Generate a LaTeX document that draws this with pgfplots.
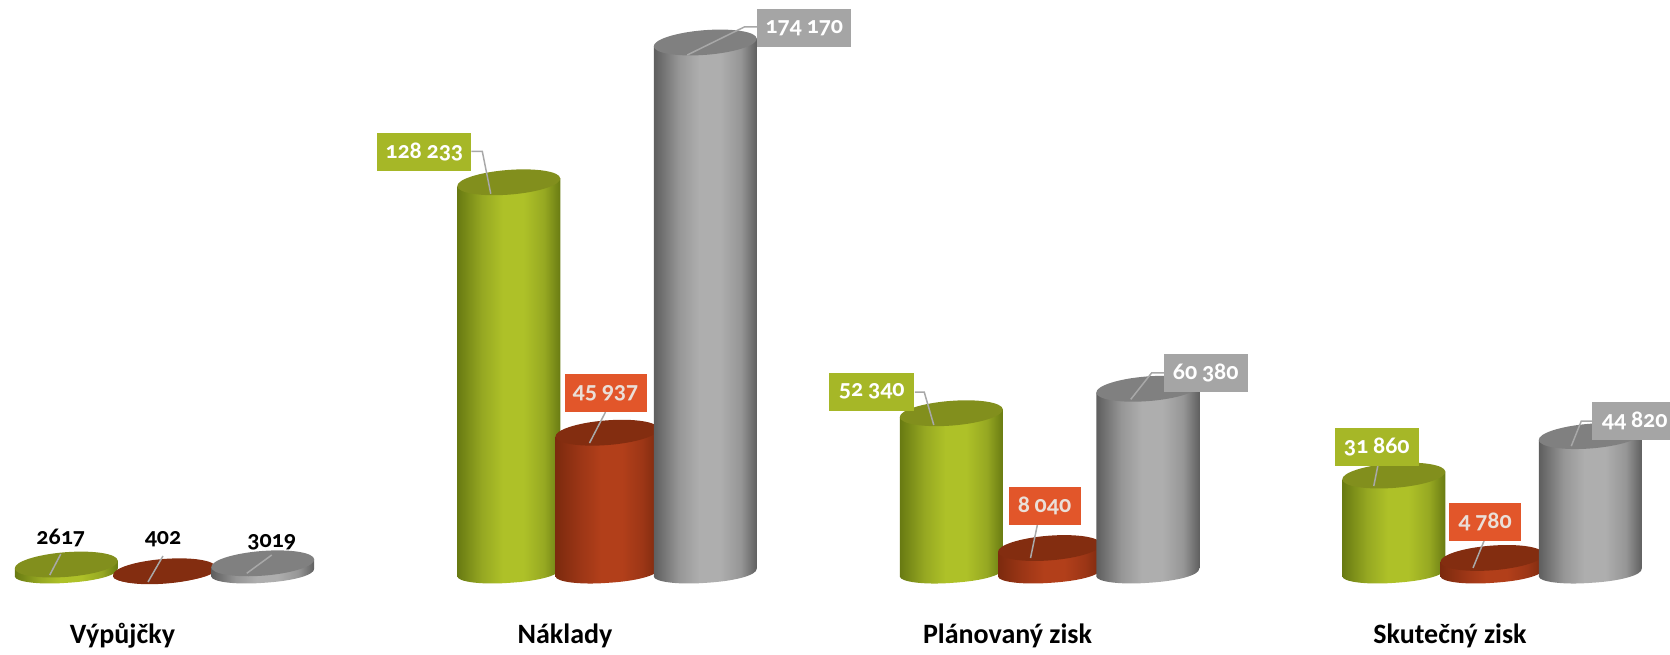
\documentclass[border=0pt]{standalone}
\usepackage{fontspec}
\usepackage{pgfplots}
\usepackage{pgfplotstable}
\pgfplotsset{compat=1.18}
\setmainfont{Carlito}[Numbers=OldStyle]
\definecolor{gE}{HTML}{687A12}\definecolor{gM}{HTML}{96A822}\definecolor{gB}{HTML}{AEC128}\definecolor{gT}{HTML}{828F1D}\definecolor{gL}{HTML}{A6B727}
\definecolor{rE}{HTML}{7C2A0E}\definecolor{rM}{HTML}{9C3616}\definecolor{rB}{HTML}{B23F1A}\definecolor{rT}{HTML}{832D10}\definecolor{rL}{HTML}{E2562A}
\definecolor{aE}{HTML}{5E5E5E}\definecolor{aM}{HTML}{969696}\definecolor{aB}{HTML}{AEAEAE}\definecolor{aT}{HTML}{808080}\definecolor{aL}{HTML}{A5A5A5}
\definecolor{lead}{HTML}{A8A8A8}\definecolor{rtxt}{HTML}{EADFD8}
\pgfdeclarehorizontalshading{cylg}{100bp}{color(0bp)=(gE);color(25bp)=(gE);color(37bp)=(gM);color(47bp)=(gB);color(57bp)=(gB);color(67bp)=(gM);color(75bp)=(gE);color(100bp)=(gE)}
\pgfdeclarehorizontalshading{cylr}{100bp}{color(0bp)=(rE);color(25bp)=(rE);color(37bp)=(rM);color(47bp)=(rB);color(57bp)=(rB);color(67bp)=(rM);color(75bp)=(rE);color(100bp)=(rE)}
\pgfdeclarehorizontalshading{cyla}{100bp}{color(0bp)=(aE);color(25bp)=(aE);color(37bp)=(aM);color(47bp)=(aB);color(57bp)=(aB);color(67bp)=(aM);color(75bp)=(aE);color(100bp)=(aE)}
\makeatletter
\newcommand\fixnum[1]{%
  \edef\fix@tmp{\noexpand\in@{Y}{#1}}\fix@tmp
  \ifin@\pgfmathfloattofixed{#1}\else\pgfmathfloatparsenumber{#1}\pgfmathfloattofixed{\pgfmathresult}\fi
  \edef#1{\pgfmathresult}}
\makeatother
\newcommand\fixall{\fixnum\vh\fixnum\vdx\fixnum\vdy\fixnum\vw\fixnum\vsx\fixnum\vsy\fixnum\vex\fixnum\vey\fixnum\vfx\fixnum\vfy\fixnum\vf\fixnum\vt}
\newcommand\drawcyl[2]{%
  \fixall
  \edef\cylh{\vh pt}%
  \pgfpathmoveto{\pgfqpoint{-51.5pt}{-4pt}}%
  \pgfpathlineto{\pgfqpoint{-51.5pt}{\dimexpr-4pt-\cylh\relax}}%
  \pgfpathcurveto{\pgfqpoint{-50.95pt}{\dimexpr-9.3pt-\cylh\relax}}{\pgfqpoint{-27.44pt}{\dimexpr-12.5pt-\cylh\relax}}{\pgfqpoint{1pt}{\dimexpr-10.3pt-\cylh\relax}}%
  \pgfpathcurveto{\pgfqpoint{29.44pt}{\dimexpr-8.6pt-\cylh\relax}}{\pgfqpoint{52.05pt}{\dimexpr-2.79pt-\cylh\relax}}{\pgfqpoint{51.5pt}{\dimexpr4pt-\cylh\relax}}%
  \pgfpathlineto{\pgfqpoint{51.5pt}{4pt}}%
  \pgfpathclose
  \pgfshadepath{#1}{0}\pgfusepath{discard}%
  \pgfsetfillcolor{#2}%
  \pgfpathellipse{\pgfpointorigin}{\pgfqpoint{51.5pt}{4pt}}{\pgfqpoint{-1pt}{12.3pt}}%
  \pgfusepath{fill}%
  \pgfsetstrokecolor{lead}\pgfsetlinewidth{1.5pt}%
  \pgfpathmoveto{\pgfqpoint{\vsx pt}{\vsy pt}}%
  \pgfpathlineto{\pgfqpoint{\vex pt}{\vey pt}}%
  \pgfpathlineto{\pgfqpoint{\vfx pt}{\vfy pt}}%
  \pgfusepath{stroke}%
}
\pgfdeclareplotmark{cg}{\drawcyl{cylg}{gT}}
\pgfdeclareplotmark{cr}{\drawcyl{cylr}{rT}}
\pgfdeclareplotmark{ca}{\drawcyl{cyla}{aT}}
\pgfplotstableread{
x y h dx dy w sx sy ex ey fx fy f t
-0.222 2617 7.96 -5.5 26.5 60 -16.5 -10.5 -5.5 10.5 -5.5 10.5 0 100
0.778 128233 390.2 -84.5 30.5 94 -18 -11.5 -26.5 31 -37.5 31 1 0
1.778 52340 159.3 -79.5 21.7 85 -17.5 -11.8 -27 21 -36.5 21 1 0
2.778 31860 96.95 -17 28.5 84 -20 -10.5 -16 9.5 -16 9.5 1 0
}\tabg
\pgfplotstableread{
x y h dx dy w sx sy ex ey fx fy f t
0 402 1.22 -1.5 32 50 -16.5 -10.7 -1.5 15.3 -1.5 15.3 0 100
1 45937 139.8 -1.5 39.7 82 -17.5 -10.3 -1.5 20.7 -1.5 20.7 1 0
2 8040 24.47 -5 42.5 72 -19 -10 -12 24 -12 24 1 0
3 4780 14.55 -7 36 72 -19 -10 -8 17 -8 17 1 0
}\tabr
\pgfplotstableread{
x y h dx dy w sx sy ex ey fx fy f t
0.222 3019 9.19 9 21 60 -16 -10 9 8.3 9 8.3 0 100
1.222 174170 530 99 14.5 94 -18 -12.5 39 15.5 52 15.5 1 0
2.222 60380 183.7 58 15.3 84 -17 -10.6 4 16 16 16 1 0
3.222 44820 136.4 44.5 15 85 -19 -10 -9 15 2 15 1 0
}\taba
\pgfplotsset{cyl/.style n args={3}{only marks,scatter,mark=#1,point meta=y,
  scatter/use mapped color={draw=none,fill=none},
  visualization depends on={\thisrow{h}\as\vh},
  visualization depends on={\thisrow{dx}\as\vdx},
  visualization depends on={\thisrow{dy}\as\vdy},
  visualization depends on={\thisrow{w}\as\vw},
  visualization depends on={\thisrow{sx}\as\vsx},
  visualization depends on={\thisrow{sy}\as\vsy},
  visualization depends on={\thisrow{ex}\as\vex},
  visualization depends on={\thisrow{ey}\as\vey},
  visualization depends on={\thisrow{fx}\as\vfx},
  visualization depends on={\thisrow{fy}\as\vfy},
  visualization depends on={\thisrow{f}\as\vf},
  visualization depends on={\thisrow{t}\as\vt},
  nodes near coords*,
  nodes near coords style={/utils/exec=\fixall,anchor=center,xshift=\vdx pt,yshift=\vdy pt,
    fill=#2,fill opacity=\vf,text opacity=1,/tikz/text/.expanded={black!\vt!#3},
    inner sep=0pt,minimum height=38pt,minimum width=\vw pt,font=\fontsize{24}{24}\selectfont\bfseries}}}
\begin{document}
\begin{tikzpicture}
\path[use as bounding box] (0,0) rectangle (1670pt,654pt);
\begin{axis}[at={(0,0)},anchor=south west,width=1670pt,height=654pt,scale only axis,clip=false,
  xmin=-0.37175,xmax=3.40226,ymin=-26783,ymax=188137,
  axis line style={draw=none},major tick length=0pt,
  xtick={0,1,2,3},xticklabels={Výpůjčky,Náklady,Plánovaný zisk,Skutečný zisk},ytick=\empty,
  /pgf/number format/fixed,/pgf/number format/precision=0,
  /pgf/number format/assume math mode=true,
  /pgf/number format/1000 sep={\kern0.2em},
  /pgf/number format/min exponent for 1000 sep=4,
  xticklabel style={font=\fontsize{28}{28}\selectfont\bfseries,xshift=-42pt,anchor=base,yshift=11pt}]
\addplot[cyl={cg}{gL}{white}] table[x=x,y=y] {\tabg};
\addplot[cyl={cr}{rL}{rtxt},every node near coord/.append style={/pgf/number format/min exponent for 1000 sep=0}] table[x=x,y=y] {\tabr};
\addplot[cyl={ca}{aL}{white}] table[x=x,y=y] {\taba};
\end{axis}
\end{tikzpicture}
\end{document}
